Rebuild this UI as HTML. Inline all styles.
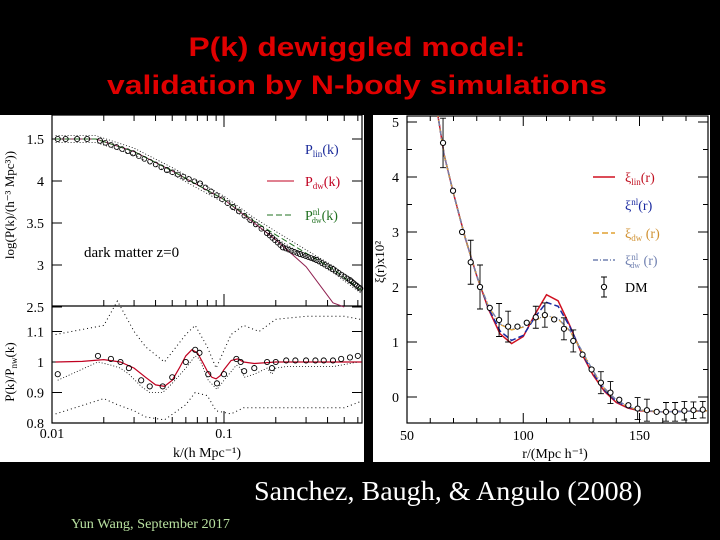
<!DOCTYPE html>
<html><head><meta charset="utf-8"><style>
html,body{margin:0;padding:0;background:#000;}
svg{display:block;}
</style></head><body>
<svg width="720" height="540" viewBox="0 0 720 540" xmlns="http://www.w3.org/2000/svg">
<rect x="0" y="0" width="720" height="540" fill="#000"/>
<g font-family="Liberation Sans, Arial, sans-serif" font-weight="bold" fill="#e00000" font-size="27" text-anchor="middle">
<text x="357" y="56" textLength="337" lengthAdjust="spacingAndGlyphs">P(k) dewiggled model:</text>
<text x="357" y="94" textLength="500" lengthAdjust="spacingAndGlyphs">validation by N-body simulations</text>
</g>
<rect x="0" y="115" width="364" height="347" fill="#fff"/>
<rect x="373" y="115" width="337" height="347" fill="#fff"/>
<g id="left"></g>
<g id="right"></g>
<text x="448" y="500" font-family="Liberation Serif, serif" font-size="27" fill="#fff" text-anchor="middle" textLength="388" lengthAdjust="spacingAndGlyphs">Sanchez, Baugh, &amp; Angulo (2008)</text>
<text x="71" y="528" font-family="Liberation Serif, serif" font-size="14" fill="#b8e0a0" textLength="159" lengthAdjust="spacingAndGlyphs">Yun Wang, September 2017</text>
</svg>
<script>
// ---------- LEFT CHART DATA ----------
const kData = [0.0108,0.012,0.014,0.016,0.019,0.0296,0.0466,0.0725,0.113,0.178,0.22,0.277,0.345,0.43,0.54,0.62];
const logPData = [4.5,4.5,4.5,4.5,4.48,4.33,4.13,3.97,3.69,3.38,3.21,3.13,3.06,2.95,2.82,2.72];
const kLin = [0.0105,0.018,0.03,0.05,0.1,0.15,0.2,0.3,0.43,0.5];
const logPLin = [4.5,4.5,4.35,4.12,3.78,3.5,3.3,2.98,2.55,2.5];
const kNl = [0.0105,0.018,0.03,0.05,0.1,0.15,0.2,0.3,0.43,0.63];
const logPNl = [4.5,4.5,4.35,4.12,3.78,3.52,3.36,3.14,2.95,2.7];
const kRatio = [0.0108,0.0185,0.022,0.025,0.028,0.033,0.037,0.044,0.05,0.06,0.068,0.072,0.081,0.091,0.1,0.118,0.125,0.131,0.15,0.178,0.19,0.2,0.23,0.26,0.3,0.34,0.38,0.43,0.48,0.54,0.6];
const ratioData = [0.96,1.02,1.01,1.0,0.98,0.94,0.92,0.92,0.95,1.0,1.04,1.03,0.96,0.93,0.96,1.01,1.0,0.97,0.98,1.0,0.98,1.0,1.005,1.005,1.005,1.005,1.005,1.005,1.01,1.015,1.02];
const kModel = [0.0105,0.015,0.02,0.025,0.03,0.035,0.04,0.045,0.05,0.055,0.06,0.065,0.07,0.075,0.08,0.085,0.09,0.095,0.1,0.11,0.12,0.13,0.15,0.2,0.3,0.63];
const ratioModel = [1.0,1.002,1.008,1.0,0.98,0.95,0.925,0.92,0.94,0.98,1.02,1.04,1.03,1.0,0.97,0.95,0.945,0.955,0.975,1.005,1.01,1.0,0.995,1.0,1.0,1.0];
const kBand = [0.0105,0.02,0.024,0.03,0.035,0.045,0.06,0.068,0.08,0.09,0.11,0.13,0.16,0.2,0.3,0.5,0.62];
const bandUpper = [1.09,1.12,1.2,1.1,1.05,1.0,1.09,1.12,1.05,0.98,1.09,1.12,1.1,1.14,1.15,1.15,1.14];
const bandLower = [0.83,0.88,0.86,0.84,0.82,0.81,0.86,0.9,0.89,0.84,0.83,0.85,0.85,0.85,0.85,0.85,0.87];
const upperTicks = ["1.5","4","3.5","3","2.5"], upperTickVals=[4.5,4,3.5,3,2.5];
const lowerTicks = ["1.1","1","0.9","0.8"], lowerTickVals=[1.1,1,0.9,0.8];
const xTickLabels = ["0.01","0.1"], xTickVals=[0.01,0.1];

// ---------- RIGHT CHART DATA ----------
const rData = [65.5,69.8,73.7,77.4,81.4,85.6,89.6,93.5,97.5,101.5,105.4,109.3,113.3,117.5,121.5,125.5,129.4,133.4,137.5,141.3,145.2,149.2,153.2,157.4,161.4,165.3,169.3,173.2,177.2];
const xiData = [4.62,3.75,3.0,2.45,2.0,1.62,1.4,1.28,1.28,1.35,1.45,1.49,1.41,1.24,1.02,0.77,0.5,0.26,0.08,-0.05,-0.15,-0.21,-0.24,-0.27,-0.27,-0.27,-0.25,-0.24,-0.23];
const xiErr = [0.45,0.0,0.0,0.4,0.4,0.0,0.3,0.28,0.0,0.0,0.2,0.22,0.0,0.2,0.2,0.0,0.0,0.2,0.2,0.0,0.0,0.2,0.2,0.0,0.17,0.17,0.17,0.15,0.15];
const rModel = [63,66,70,75,80,85,90,95,100,105,110,115,120,125,130,135,140,145,150,160,170,179];
const xiLin = [5.2,4.4,3.7,2.9,2.2,1.6,1.15,0.97,1.1,1.5,1.86,1.75,1.3,0.8,0.4,0.1,-0.1,-0.2,-0.25,-0.27,-0.26,-0.25];
const xiNl = [5.2,4.4,3.7,2.9,2.2,1.62,1.2,1.03,1.12,1.45,1.72,1.65,1.28,0.82,0.43,0.12,-0.08,-0.19,-0.24,-0.27,-0.26,-0.25];
const xiDw = [5.2,4.4,3.7,2.9,2.2,1.65,1.32,1.22,1.27,1.4,1.47,1.42,1.2,0.85,0.47,0.15,-0.06,-0.18,-0.24,-0.27,-0.26,-0.25];
const xiDwNl = [5.2,4.4,3.7,2.9,2.2,1.66,1.33,1.24,1.28,1.41,1.48,1.43,1.21,0.86,0.48,0.16,-0.05,-0.17,-0.24,-0.27,-0.26,-0.25];
const rTickLabels=["50","100","150"], rTickVals=[50,100,150];
const xiTickLabels=["5","4","3","2","1","0"], xiTickVals=[5,4,3,2,1,0];

const NS="http://www.w3.org/2000/svg";
function mk(parent,tag,attrs){const e=document.createElementNS(NS,tag);for(const k in attrs)e.setAttribute(k,attrs[k]);parent.appendChild(e);return e;}
function pathFrom(xs,ys,fx,fy){return xs.map((x,i)=>(i?'L':'M')+fx(x).toFixed(1)+','+fy(ys[i]).toFixed(1)).join(' ');}
// parts: [text, mode] mode: '' normal, 'sub', 'sup'
function richText(t,parts){parts.forEach(p=>{const s=mk(t,'tspan',{});s.textContent=p[0];
 if(p[1]==='sub'){s.setAttribute('font-size','9');s.setAttribute('baseline-shift','-3');}
 if(p[1]==='sup'){s.setAttribute('font-size','9');s.setAttribute('baseline-shift','5');}
 if(p[1]==='subsup'){s.setAttribute('font-size','8');s.setAttribute('dx','-8');s.setAttribute('baseline-shift','-3');}});}

// LEFT
const L=document.getElementById('left');
const lx=k=>52+172*Math.log10(k/0.01);
const uy=v=>139+(4.5-v)*84;
const ry=v=>362-(v-1)*305;
const LX0=52,LX1=362,UY0=115,UY1=306,BY1=423;
let e;
e=mk(L,'path',{d:`M${LX0},${UY0}V${BY1}H${LX1}V${UY0}Z M${LX0},${UY1}H${LX1}`,fill:'none',stroke:'#000','stroke-width':1.2});

for(let d=0.01;d<0.7;d*=10){for(let m=1;m<10;m++){const k=d*m;if(k>0.63)break;const x=lx(k),len=m===1?12:6;
mk(L,'line',{x1:x,y1:BY1,x2:x,y2:BY1-len,stroke:'#000'});mk(L,'line',{x1:x,y1:UY1,x2:x,y2:UY1-len,stroke:'#000'});mk(L,'line',{x1:x,y1:UY0,x2:x,y2:UY0+len,stroke:'#000'});}}
xTickVals.forEach((v,i)=>{e=mk(L,'text',{x:lx(v),y:438,'font-family':'Liberation Serif,serif','font-size':14,'text-anchor':'middle'});e.textContent=xTickLabels[i];
});
upperTickVals.forEach((v,i)=>{const y=uy(v);mk(L,'line',{x1:LX0,y1:y,x2:LX0+10,y2:y,stroke:'#000'});mk(L,'line',{x1:LX1,y1:y,x2:LX1-10,y2:y,stroke:'#000'});
e=mk(L,'text',{x:44,y:y+5,'font-family':'Liberation Serif,serif','font-size':14,'text-anchor':'end'});e.textContent=upperTicks[i];
});
lowerTickVals.forEach((v,i)=>{const y=ry(v);mk(L,'line',{x1:LX0,y1:y,x2:LX0+10,y2:y,stroke:'#000'});mk(L,'line',{x1:LX1,y1:y,x2:LX1-10,y2:y,stroke:'#000'});
if(i<3){e=mk(L,'text',{x:44,y:y+5,'font-family':'Liberation Serif,serif','font-size':14,'text-anchor':'end'});e.textContent=lowerTicks[i];
}});
e=mk(L,'text',{x:44,y:BY1+5,'font-family':'Liberation Serif,serif','font-size':14,'text-anchor':'end'});e.textContent='0.8';

e=mk(L,'path',{d:pathFrom(kLin,logPLin,lx,uy),fill:'none',stroke:'#902050','stroke-width':1});

e=mk(L,'path',{d:pathFrom(kNl,logPNl,lx,uy),fill:'none',stroke:'#207020','stroke-width':1,'stroke-dasharray':'6,3'});

e=mk(L,'path',{d:pathFrom(kNl,logPNl.map(v=>v+0.04),lx,uy),fill:'none',stroke:'#000','stroke-width':0.8,'stroke-dasharray':'1,2'});

e=mk(L,'path',{d:pathFrom(kNl,logPNl.map(v=>v-0.04),lx,uy),fill:'none',stroke:'#000','stroke-width':0.8,'stroke-dasharray':'1,2'});

for(let i=0;i<kData.length;i++){
 e=mk(L,'circle',{cx:lx(kData[i]),cy:uy(logPData[i]),r:2.6,fill:'none',stroke:'#000','stroke-width':0.9});
 }
for(let i=0;i<kData.length-1;i++){const n=6;for(let j=1;j<n;j++){const t=j/n;const k=kData[i]*Math.pow(kData[i+1]/kData[i],t);const v=logPData[i]+(logPData[i+1]-logPData[i])*t;
 if(k<0.02)continue;
 e=mk(L,'circle',{cx:lx(k),cy:uy(v),r:2.4,fill:'none',stroke:'#000','stroke-width':0.8});
 }}
e=mk(L,'path',{d:pathFrom(kModel,ratioModel,lx,ry),fill:'none',stroke:'#c00020','stroke-width':1.2});

e=mk(L,'path',{d:pathFrom(kBand,bandUpper,lx,ry),fill:'none',stroke:'#000','stroke-width':1,'stroke-dasharray':'1,3'});

e=mk(L,'path',{d:pathFrom(kBand,bandLower,lx,ry),fill:'none',stroke:'#000','stroke-width':1,'stroke-dasharray':'1,3'});

e=mk(L,'path',{d:pathFrom(kRatio,ratioData.map(v=>v-0.02),lx,ry),fill:'none',stroke:'#000','stroke-width':0.8,'stroke-dasharray':'1,2'});

kRatio.forEach((k,i)=>{e=mk(L,'circle',{cx:lx(k),cy:ry(ratioData[i]),r:2.6,fill:'none',stroke:'#000','stroke-width':0.9});
 });
e=mk(L,'text',{x:84,y:257,'font-family':'Liberation Serif,serif','font-size':15});e.textContent='dark matter z=0';

e=mk(L,'text',{x:207,y:457,'font-family':'Liberation Serif,serif','font-size':14,'text-anchor':'middle'});e.textContent='k/(h Mpc⁻¹)';

e=mk(L,'text',{x:0,y:0,'font-family':'Liberation Serif,serif','font-size':13,'text-anchor':'middle',transform:'translate(14,205) rotate(-90)'});e.textContent='log(P(k)/(h⁻³ Mpc³))';

e=mk(L,'text',{x:0,y:0,'font-family':'Liberation Serif,serif','font-size':13,'text-anchor':'middle',transform:'translate(14,372) rotate(-90)'});
richText(e,[['P(k)/P',''],['nw','sub'],['(k)','']]);

const leg=[[[['P',''],['lin','sub'],['(k)','']],'#1a2a9a',null,null,149],[[['P',''],['dw','sub'],['(k)','']],'#c00020','#c00020','',181],[[['P',''],['nl','sup'],['dw','subsup'],['(k)','']],'#207020','#207020','6,3',215]];
leg.forEach(l=>{if(l[2]){e=mk(L,'line',{x1:267,y1:l[4],x2:294,y2:l[4],stroke:l[2],'stroke-dasharray':l[3]});}
 e=mk(L,'text',{x:305,y:l[4]+5,'font-family':'Liberation Serif,serif','font-size':14,fill:l[1]});richText(e,l[0]);
 });

// RIGHT
const R=document.getElementById('right');
const rx=r=>407+(r-50)*2.325;
const xy=v=>397-55*v;
const RX0=407,RX1=708,RY0=122,RY1=423;
e=mk(R,'rect',{x:RX0,y:RY0-6,width:RX1-RX0,height:RY1-RY0+6,fill:'none',stroke:'#000','stroke-width':1.2});

for(let r=60;r<=175;r+=10){const x=rx(r),len=r%50===0?10:5;mk(R,'line',{x1:x,y1:RY1,x2:x,y2:RY1-len,stroke:'#000'});mk(R,'line',{x1:x,y1:RY0-6,x2:x,y2:RY0-6+len,stroke:'#000'});}
rTickVals.forEach((v,i)=>{e=mk(R,'text',{x:rx(v),y:440,'font-family':'Liberation Serif,serif','font-size':14,'text-anchor':'middle'});e.textContent=rTickLabels[i];
 });
for(let v=-0.5;v<=5;v+=0.5){const y=xy(v);if(y>RY1)continue;const len=Number.isInteger(v)?10:5;mk(R,'line',{x1:RX0,y1:y,x2:RX0+len,y2:y,stroke:'#000'});mk(R,'line',{x1:RX1,y1:y,x2:RX1-len,y2:y,stroke:'#000'});}
xiTickVals.forEach((v,i)=>{e=mk(R,'text',{x:399,y:xy(v)+5,'font-family':'Liberation Serif,serif','font-size':14,'text-anchor':'end'});e.textContent=xiTickLabels[i];
 });
const clipR=mk(R,'clipPath',{id:'cr'});mk(clipR,'rect',{x:RX0,y:RY0-6,width:RX1-RX0,height:RY1-RY0+6});
const cg=mk(R,'g',{'clip-path':'url(#cr)'});
e=mk(cg,'path',{d:pathFrom(rModel,xiLin,rx,xy),fill:'none',stroke:'#d01020','stroke-width':1.5});

e=mk(cg,'path',{d:pathFrom(rModel,xiNl,rx,xy),fill:'none',stroke:'#1a2aa0','stroke-width':1.5,'stroke-dasharray':'6,3'});

e=mk(cg,'path',{d:pathFrom(rModel,xiDw,rx,xy),fill:'none',stroke:'#e0a030','stroke-width':1.3,'stroke-dasharray':'6,3'});

e=mk(cg,'path',{d:pathFrom(rModel,xiDwNl,rx,xy),fill:'none',stroke:'#7080b0','stroke-width':1.2,'stroke-dasharray':'5,2,1,2'});

rData.forEach((r,i)=>{const x=rx(r),y=xy(xiData[i]);
 if(xiErr[i]>0){e=mk(R,'path',{d:`M${x},${xy(xiData[i]+xiErr[i])}V${xy(xiData[i]-xiErr[i])}M${x-3},${xy(xiData[i]+xiErr[i])}h6M${x-3},${xy(xiData[i]-xiErr[i])}h6`,stroke:'#000',fill:'none','stroke-width':0.9});
 }
 e=mk(R,'circle',{cx:x,cy:y,r:2.6,fill:'#fff',stroke:'#000','stroke-width':1});
 });
e=mk(R,'text',{x:555,y:458,'font-family':'Liberation Serif,serif','font-size':14,'text-anchor':'middle'});e.textContent='r/(Mpc h⁻¹)';

e=mk(R,'text',{x:0,y:0,'font-family':'Liberation Serif,serif','font-size':13,'text-anchor':'middle',transform:'translate(384,262) rotate(-90)'});e.textContent='ξ(r)x10²';

const rleg=[[[['ξ',''],['lin','sub'],['(r)','']],'#c01020','#d01020','',177],[[['ξ',''],['nl','sup'],['(r)','']],'#1a2aa0',null,'',205],[[['ξ',''],['dw','sub'],[' (r)','']],'#d09030','#e0a030','6,3',233],[[['ξ',''],['nl','sup'],['dw','subsup'],[' (r)','']],'#7080b0','#7080b0','5,2,1,2',260]];
rleg.forEach(l=>{if(l[2]){e=mk(R,'line',{x1:593,y1:l[4],x2:615,y2:l[4],stroke:l[2],'stroke-width':1.4,'stroke-dasharray':l[3]});}
 e=mk(R,'text',{x:625,y:l[4]+5,'font-family':'Liberation Serif,serif','font-size':14,fill:l[1]});richText(e,l[0]);
 });
mk(R,'path',{d:'M604,277V297M601,277h6M601,297h6',stroke:'#000',fill:'none'});
e=mk(R,'circle',{cx:604,cy:287,r:2.6,fill:'#fff',stroke:'#000'});
e=mk(R,'text',{x:625,y:292,'font-family':'Liberation Serif,serif','font-size':14});e.textContent='DM';

</script>
</body></html>
